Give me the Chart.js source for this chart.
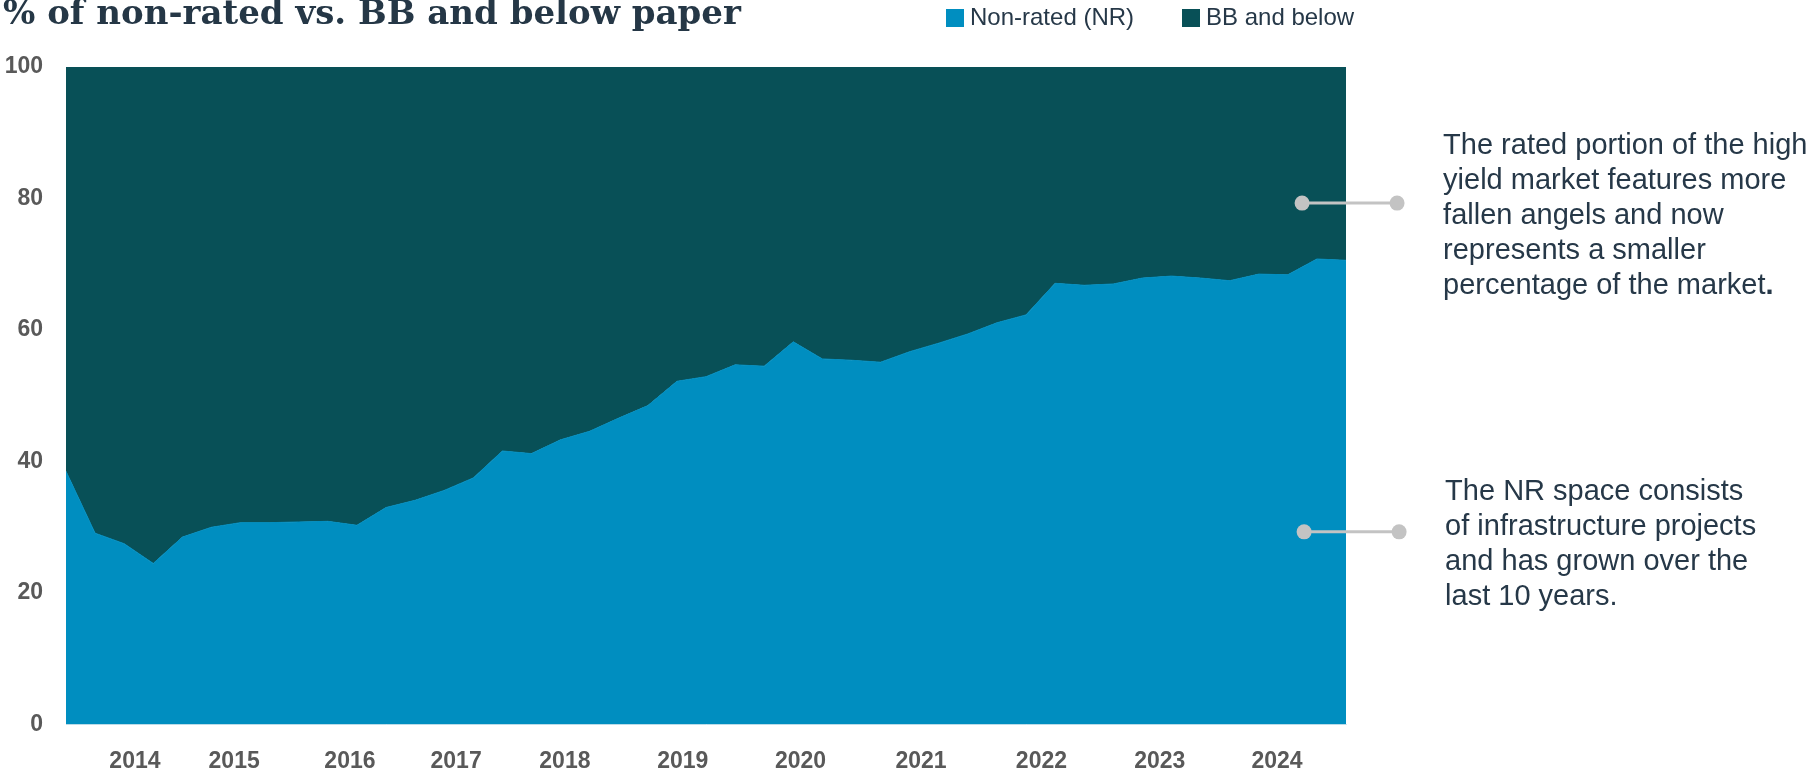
<!DOCTYPE html>
<html>
<head>
<meta charset="utf-8">
<script src="https://cdn.jsdelivr.net/npm/chart.js@4.4.1/dist/chart.umd.min.js"></script>
<style>
  html, body { margin: 0; padding: 0; background: #fff; }
  #wrap { width: 1809px; height: 778px; position: relative; }
</style>
</head>
<body>
<div id="wrap"><canvas id="share" width="1809" height="778"></canvas></div>
<script>
// quarterly share of the high yield market, %
const nonRated = [
  38.5, 29.1, 27.5, 24.5, 28.5, 30.0, 30.7, 30.7, 30.8, 30.9,
  30.3, 33.0, 34.1, 35.6, 37.5, 41.6, 41.2, 43.3, 44.6, 46.6,
  48.5, 52.2, 52.9, 54.7, 54.5, 58.2, 55.6, 55.4, 55.1, 56.7,
  58.0, 59.4, 61.1, 62.3, 67.1, 66.8, 67.0, 67.9, 68.2, 67.9,
  67.5, 68.5, 68.4, 70.8, 70.6
];
const bbAndBelow = [
  61.5, 70.9, 72.5, 75.5, 71.5, 70.0, 69.3, 69.3, 69.2, 69.1,
  69.7, 67.0, 65.9, 64.4, 62.5, 58.4, 58.8, 56.7, 55.4, 53.4,
  51.5, 47.8, 47.1, 45.3, 45.5, 41.8, 44.4, 44.6, 44.9, 43.3,
  42.0, 40.6, 38.9, 37.7, 32.9, 33.2, 33.0, 32.1, 31.8, 32.1,
  32.5, 31.5, 31.6, 29.2, 29.4
];

// year labels sit between quarters on the x axis
const yearTicks = [2.37, 5.78, 9.76, 13.41, 17.15, 21.2, 25.25, 29.39, 33.53, 37.6, 41.63];
const yearLabels = ['2014', '2015', '2016', '2017', '2018', '2019', '2020', '2021', '2022', '2023', '2024'];

const seriesNames = ['Non-rated (NR)', 'BB and below'];
const seriesColors = ['#008EC0', '#085057'];

const notes = [
  {
    at: [42.49, 79.3],
    firstLine: -49,
    lines: ['The rated portion of the high', 'yield market features more', 'fallen angels and now',
            'represents a smaller', 'percentage of the market'],
    boldTail: '.'
  },
  {
    at: [42.56, 29.3],
    firstLine: -32,
    lines: ['The NR space consists', 'of infrastructure projects', 'and has grown over the', 'last 10 years.'],
    boldTail: ''
  }
];

const SANS = '"Liberation Sans", Arial, Helvetica, sans-serif';
const INK = '#263848';

const asPoints = (arr) => arr.map((v, i) => ({ x: i, y: v }));

const decorations = {
  id: 'decorations',
  afterDraw(chart) {
    const ctx = chart.ctx;
    const xs = chart.scales.x, ys = chart.scales.y;
    ctx.save();

    // title
    ctx.fillStyle = '#253746';
    ctx.font = 'bold 34px "DejaVu Serif", Georgia, serif';
    ctx.textBaseline = 'alphabetic';
    ctx.textAlign = 'left';
    ctx.fillText('% of non-rated vs. BB and below paper', 3, 24);

    // legend
    const legendX = [946, 1182];
    ctx.font = '24px ' + SANS;
    ctx.textBaseline = 'middle';
    seriesNames.forEach((name, i) => {
      ctx.fillStyle = seriesColors[i];
      ctx.fillRect(legendX[i], 9, 18, 18);
      ctx.fillStyle = INK;
      ctx.fillText(name, legendX[i] + 24, 18);
    });

    // callouts
    notes.forEach((n) => {
      const x0 = xs.getPixelForValue(n.at[0]);
      const y0 = ys.getPixelForValue(n.at[1]);
      const x1 = x0 + 95;
      ctx.strokeStyle = '#C3C3C3';
      ctx.lineWidth = 3;
      ctx.beginPath();
      ctx.moveTo(x0, y0);
      ctx.lineTo(x1, y0);
      ctx.stroke();
      ctx.fillStyle = '#C3C3C3';
      [x0, x1].forEach((cx) => {
        ctx.beginPath();
        ctx.arc(cx, y0, 7.5, 0, Math.PI * 2);
        ctx.fill();
      });

      ctx.fillStyle = INK;
      ctx.textBaseline = 'alphabetic';
      const tx = x0 + 141;
      n.lines.forEach((line, k) => {
        const ty = y0 + n.firstLine + k * 35;
        ctx.font = '29px ' + SANS;
        ctx.fillText(line, tx, ty);
        if (n.boldTail && k === n.lines.length - 1) {
          const w = ctx.measureText(line).width;
          ctx.font = 'bold 29px ' + SANS;
          ctx.fillText(n.boldTail, tx + w, ty);
        }
      });
    });
    ctx.restore();
  }
};

new Chart(document.getElementById('share'), {
  type: 'line',
  data: {
    datasets: [
      {
        label: seriesNames[0],
        data: asPoints(nonRated),
        backgroundColor: seriesColors[0],
        borderColor: seriesColors[0],
        borderWidth: 1,
        fill: 'origin'
      },
      {
        label: seriesNames[1],
        data: asPoints(bbAndBelow),
        backgroundColor: seriesColors[1],
        borderColor: seriesColors[1],
        borderWidth: 0,
        fill: '-1'
      }
    ]
  },
  options: {
    responsive: false,
    animation: false,
    layout: { padding: { top: 67, right: 463, left: 0, bottom: 0 } },
    elements: {
      point: { radius: 0 },
      line: { tension: 0 }
    },
    plugins: {
      legend: { display: false },
      title: { display: false },
      tooltip: { enabled: false }
    },
    scales: {
      x: {
        type: 'linear',
        min: 0,
        max: nonRated.length - 1,
        grid: { display: false, drawTicks: false },
        border: { display: true, color: '#D6E6EE', width: 1 },
        afterBuildTicks: (scale) => {
          scale.ticks = yearTicks.map((v) => ({ value: v }));
        },
        afterFit: (scale) => { scale.height = 53.5; },
        ticks: {
          autoSkip: false,
          maxRotation: 0,
          padding: 23,
          color: '#595959',
          font: { family: SANS, size: 23, weight: 'bold' },
          callback: (v, i) => yearLabels[i]
        }
      },
      y: {
        stacked: true,
        min: 0,
        max: 100,
        grid: { display: false, drawTicks: false },
        border: { display: false },
        afterFit: (scale) => { scale.width = 66; },
        ticks: {
          stepSize: 20,
          padding: 23,
          color: '#595959',
          font: { family: SANS, size: 23, weight: 'bold' }
        }
      }
    }
  },
  plugins: [decorations]
});
</script>
</body>
</html>
